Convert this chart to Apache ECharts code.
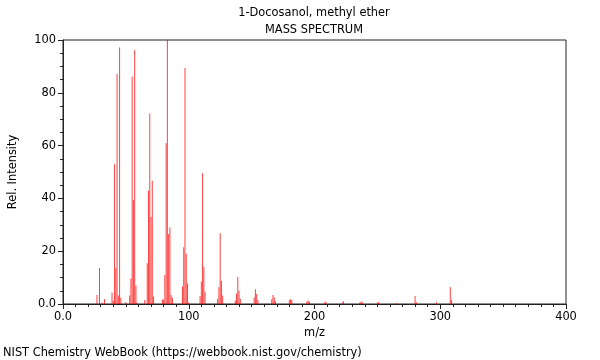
<!DOCTYPE html>
<html>
<head>
<meta charset="utf-8">
<script src="https://cdn.jsdelivr.net/npm/echarts@6/dist/echarts.min.js"></script>
<style>
html,body{margin:0;padding:0;background:#fff;}
#chart{width:600px;height:360px;}
</style>
</head>
<body>
<div id="chart"></div>
<script>
var titleText = "1-Docosanol, methyl ether";
var subtitleText = "MASS SPECTRUM";
var footerText = "NIST Chemistry WebBook (https://webbook.nist.gov/chemistry)";
var xAxisName = "m/z";
var yAxisName = "Rel. Intensity";

var mz = [27, 29, 31, 33, 39, 40, 41, 42, 43, 44, 45, 46, 50, 53, 54, 55, 56, 57, 58, 59,
  65, 67, 68, 69, 70, 71, 72, 79, 80, 81, 82, 83, 84, 85, 86, 87, 95, 96, 97, 98, 99, 100,
  109, 110, 111, 112, 113, 123, 124, 125, 126, 127, 137, 138, 139, 140, 141,
  152, 153, 154, 155, 166, 167, 168, 169, 180, 181, 182, 194, 195, 196, 208, 209,
  222, 223, 236, 237, 238, 250, 251, 265, 280, 281, 297, 308, 309];
var intensity = [3.4, 13.6, 0.5, 1.8, 4.4, 1.2, 52.9, 13.5, 87.2, 3.2, 97.2, 2.4, 0.8, 3.2, 9.7, 86.2, 39.4, 96.1, 7.0, 0.6,
  1.5, 15.4, 42.9, 72.2, 33.0, 46.7, 2.8, 1.8, 1.5, 11.0, 60.9, 100, 26.5, 29.0, 3.4, 2.4, 6.6, 21.5, 89.4, 19.0, 7.8, 0.6,
  3.0, 8.5, 49.5, 14.0, 4.7, 2.0, 6.3, 26.8, 8.8, 3.2, 1.3, 4.0, 10.2, 5.0, 2.0,
  2.5, 5.6, 3.8, 1.5, 1.8, 3.4, 2.5, 1.0, 1.5, 1.8, 1.5, 1.0, 1.3, 0.8, 0.6, 0.9,
  0.6, 1.0, 0.6, 0.9, 0.7, 0.5, 0.8, 0.4, 3.0, 0.7, 0.7, 6.3, 1.5];

var xTicks = {min: 0, max: 400, interval: 100};
var yTicks = {min: 0, max: 100, interval: 20};

var data = mz.map(function (m, i) { return [m, intensity[i]]; });
var FONT = "DejaVu Sans";
var FS = 11.4;

var chart = echarts.init(document.getElementById('chart'), null, {renderer: 'canvas'});
chart.setOption({
  animation: false,
  backgroundColor: '#fff',
  title: [
    {text: titleText, left: 314, top: 8, textAlign: 'center', padding: 0,
     textStyle: {fontFamily: FONT, fontSize: FS, fontWeight: 'normal', color: '#000'}},
    {text: subtitleText, left: 314, top: 25, textAlign: 'center', padding: 0,
     textStyle: {fontFamily: FONT, fontSize: FS, fontWeight: 'normal', color: '#000'}},
    {text: footerText, left: 3, top: 348, padding: 0,
     textStyle: {fontFamily: FONT, fontSize: FS, fontWeight: 'normal', color: '#000'}}
  ],
  grid: {left: 62, right: 34, top: 40, bottom: 56, show: true, borderColor: '#222', borderWidth: 1, backgroundColor: 'transparent'},
  xAxis: {
    type: 'value', min: xTicks.min, max: xTicks.max, interval: xTicks.interval,
    name: xAxisName, nameLocation: 'middle', nameGap: 22,
    nameTextStyle: {fontFamily: FONT, fontSize: FS, color: '#000'},
    axisLine: {show: true, lineStyle: {color: '#222', width: 1}},
    axisTick: {show: true, length: 5, lineStyle: {color: '#222'}},
    minorTick: {show: true, splitNumber: 10, length: 3, lineStyle: {color: '#222'}},
    splitLine: {show: false},
    axisLabel: {fontFamily: FONT, fontSize: FS, color: '#000', margin: 8,
      formatter: function (v) { return v === 0 ? '0.0' : String(v); }}
  },
  yAxis: {
    type: 'value', min: yTicks.min, max: yTicks.max, interval: yTicks.interval,
    name: yAxisName, nameLocation: 'middle', nameGap: 44,
    nameTextStyle: {fontFamily: FONT, fontSize: FS, color: '#000'},
    axisLine: {show: true, lineStyle: {color: '#222', width: 1}},
    axisTick: {show: true, length: 5, lineStyle: {color: '#222'}},
    minorTick: {show: true, splitNumber: 4, length: 3, lineStyle: {color: '#222'}},
    splitLine: {show: false},
    axisLabel: {fontFamily: FONT, fontSize: FS, color: '#000', margin: 7,
      formatter: function (v) { return v === 0 ? '0.0' : String(v); }}
  },
  series: [{
    type: 'bar', data: data, barWidth: 1, barGap: '-100%',
    itemStyle: {color: 'rgba(255,0,0,0.75)'},
    silent: true
  }]
});
</script>
</body>
</html>
